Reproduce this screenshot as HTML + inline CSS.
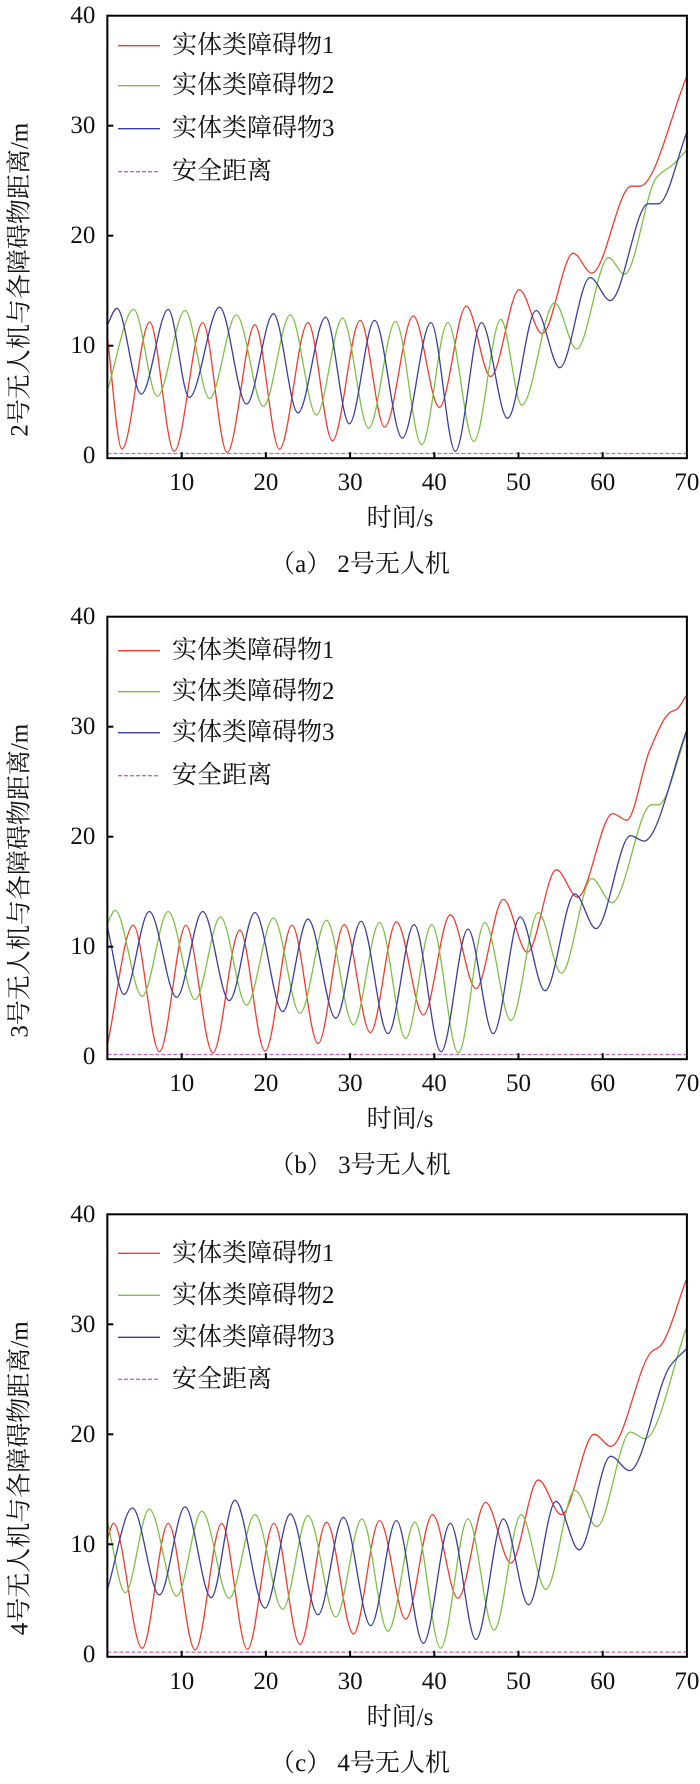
<!DOCTYPE html>
<html><head><meta charset="utf-8">
<style>
html,body{margin:0;padding:0;background:#fff;}
svg{display:block;}
text{font-family:"Liberation Serif","Noto Serif CJK SC",serif;fill:#111;}
</style></head>
<body>
<svg id="chart" width="700" height="1784" viewBox="0 0 700 1784" xmlns="http://www.w3.org/2000/svg"></svg>
<script>
// ---------- data (time s, distance m) ----------
const xTickLabels = [10, 20, 30, 40, 50, 60, 70];
const yTickLabels = [0, 10, 20, 30, 40];
const seriesNames = ["实体类障碍物1", "实体类障碍物2", "实体类障碍物3", "安全距离"];
const safeDistance = 0.2;

const aRedT = [1.17,2.9,6.2,9.1,12.5,15.4,18.7,21.6,25.0,27.9,31.2,34.1,37.5,40.6,43.8,46.7,50.1,52.8,56.5,58.7,63.4,64.4,70];
const aRedV = [10.8,0.6,12.15,0.4,12.1,0.3,11.9,0.6,12.1,1.35,12.3,2.6,12.7,4.4,13.6,7.2,15.1,11.1,18.4,16.6,24.5,24.5,34.5];
const aGreenT = [1.17,4.3,7.1,10.4,13.3,16.5,19.7,22.9,26.0,29.1,32.2,35.4,38.5,41.6,44.7,47.9,50.4,54.3,56.9,60.7,62.6,66.4,68.4,70];
const aGreenV = [5.9,13.3,5.4,13.2,5.2,12.8,4.5,12.8,3.7,12.5,2.5,12.2,1.0,12.1,1.3,12.4,4.6,13.9,9.7,18.0,16.5,25.3,26.5,27.8];
const aBlueT = [1.17,2.3,5.2,8.4,10.9,14.5,17.7,20.9,23.8,27.1,29.9,32.9,36.2,39.6,42.5,45.6,48.7,52.1,54.9,58.5,60.9,65.4,66.6,70];
const aBlueV = [11.9,13.4,5.6,13.3,5.3,13.5,4.7,12.9,3.9,12.6,2.9,12.3,1.6,12.1,0.4,12.1,3.4,13.2,8.0,16.2,14.1,22.9,22.9,29.4];

const bRedT = [1.17,4.25,7.35,10.5,13.7,16.9,19.9,23.1,26.2,29.3,32.4,35.5,38.7,41.9,44.95,48.2,51.05,54.5,57.0,61.2,62.85,65.6,68.0,68.8,70];
const bRedV = [1.05,11.95,0.45,11.95,0.35,11.5,0.5,11.95,1.2,12.0,2.2,12.25,3.8,12.9,6.2,14.3,9.5,17.0,14.5,22.1,21.5,27.9,31.3,31.6,32.9];
const bGreenT = [1.17,2.1,5.3,8.4,11.6,14.6,17.7,20.9,24.05,27.2,30.4,33.5,36.6,39.7,42.85,46.0,49.1,52.35,55.1,58.7,61.1,65.8,66.6,70];
const bGreenV = [12.1,13.3,5.5,13.2,5.2,12.7,4.7,12.6,3.95,12.4,2.9,12.2,1.65,12.0,0.35,12.2,3.3,13.1,7.6,16.2,14.0,22.9,22.9,29.5];
const bBlueT = [1.17,3.15,6.15,9.4,12.5,15.65,18.7,22.0,25.0,28.3,31.3,34.5,37.6,40.8,44.0,47.0,50.2,53.15,56.7,59.2,63.3,64.9,70];
const bBlueV = [11.8,5.65,13.2,5.4,13.2,5.1,13.1,4.1,12.5,3.5,12.3,2.1,12.0,0.45,11.6,2.1,12.7,6.0,14.8,11.65,20.1,19.6,29.7];

const cRedT = [1.17,1.9,5.3,8.4,11.6,14.75,17.8,20.95,24.05,27.2,30.4,33.5,36.6,39.8,42.8,46.1,49.1,52.35,55.1,59.0,60.95,65.8,66.8,70];
const cRedV = [10.5,11.9,0.55,11.9,0.4,11.9,0.45,11.9,0.9,12.0,1.85,12.15,3.2,12.7,5.1,13.8,8.3,15.85,12.7,20.0,18.9,27.5,28.0,34.2];
const cGreenT = [1.17,3.3,6.15,9.4,12.4,15.65,18.7,22.0,25.0,28.3,31.4,34.5,37.7,40.75,44.0,47.1,50.3,53.25,56.7,59.3,63.3,65.0,70];
const cGreenV = [12.1,5.6,13.2,5.3,13.0,5.1,12.7,4.1,12.6,3.4,12.3,2.1,12.0,0.55,12.3,2.2,12.7,5.9,14.9,11.6,20.2,19.6,29.8];
const cBlueT = [1.17,4.15,7.35,10.4,13.5,16.3,19.9,22.9,26.2,29.2,32.45,35.5,38.7,41.9,44.95,48.2,51.2,54.45,57.2,60.95,63.2,68.0,70];
const cBlueV = [5.85,13.3,5.4,13.4,5.15,14.0,4.2,12.75,3.6,12.45,2.6,12.15,1.0,11.9,1.35,12.3,4.5,13.9,9.5,18.0,16.7,26.2,27.8];

// ---------- layout ----------
const NS = "http://www.w3.org/2000/svg";
const svg = document.getElementById("chart");
const X0 = 97.5, XS = 8.42, TMIN = 1.17, TMAX = 70, YS = 11.0;
const COLORS = ["#ee3b2f", "#7cc044", "#3b3e98", "#c964c6"];
function xScale(t){ return X0 + XS*t; }

function mk(tag, attrs, parent){
  const e = document.createElementNS(NS, tag);
  for (const k in attrs) e.setAttribute(k, attrs[k]);
  (parent||svg).appendChild(e);
  return e;
}

function monoPath(ts, vs, ys){
  const n = ts.length, xs = ts.map(xScale), yy = vs.map(ys);
  const d = [], m = new Array(n);
  for (let i=0;i<n-1;i++) d.push((yy[i+1]-yy[i])/(xs[i+1]-xs[i]));
  m[0]=d[0]; m[n-1]=d[n-2];
  for (let i=1;i<n-1;i++){
    if (d[i-1]*d[i] <= 0) m[i]=0;
    else { const w1=2*(xs[i+1]-xs[i])+(xs[i]-xs[i-1]), w2=(xs[i+1]-xs[i])+2*(xs[i]-xs[i-1]);
      m[i]=(w1+w2)/(w1/d[i-1]+w2/d[i]); }
  }
  let p = "M"+xs[0].toFixed(2)+","+yy[0].toFixed(2);
  for (let i=0;i<n-1;i++){
    const h=(xs[i+1]-xs[i])/3;
    p += " C"+(xs[i]+h).toFixed(2)+","+(yy[i]+m[i]*h).toFixed(2)+" "+(xs[i+1]-h).toFixed(2)+","+(yy[i+1]-m[i+1]*h).toFixed(2)+" "+xs[i+1].toFixed(2)+","+yy[i+1].toFixed(2);
  }
  return p;
}

function drawPanel(id, zero, series, legendRows, yLabel, caption){
  const g = mk("g", {});
  
  
  const ys = v => zero - YS*v;
  const left = xScale(TMIN), right = xScale(TMAX), top = ys(40), bottom = zero + 2.5;

  // series
  series.forEach((s, i) => {
    const p = mk("path", {d: monoPath(s[0], s[1], ys), fill:"none", stroke:COLORS[i], "stroke-width":"1.3"}, g);
    
    
  });
  const sl = mk("line", {x1:left, x2:right, y1:ys(safeDistance), y2:ys(safeDistance), stroke:COLORS[3], "stroke-width":"1.2", "stroke-dasharray":"4,2"}, g);
  
  

  // frame
  const fr = mk("rect", {x:left, y:top, width:right-left, height:bottom-top, fill:"none", stroke:"#000", "stroke-width":"2"}, g);
  
  

  // x ticks
  xTickLabels.forEach(t => {
    const x = xScale(t);
    if (t < TMAX) mk("line", {x1:x, x2:x, y1:bottom, y2:bottom-6, stroke:"#000", "stroke-width":"2"}, g);
    const tx = mk("text", {x:x, y:zero+27, "font-size":"25", "text-anchor":"middle", "dominant-baseline":"central"}, g);
    tx.textContent = t;
    
    
  });
  // y ticks
  yTickLabels.forEach(v => {
    const y = ys(v);
    if (v > 0 && v < 40) mk("line", {x1:left, x2:left+6, y1:y, y2:y, stroke:"#000", "stroke-width":"2"}, g);
    const tx = mk("text", {x:left-12, y:y, "font-size":"25", "text-anchor":"end", "dominant-baseline":"central"}, g);
    tx.textContent = v;
    
    
  });

  // legend
  seriesNames.forEach((name, i) => {
    const y = top + legendRows[i];
    const ln = mk("line", {x1:118, x2:160, y1:y, y2:y, stroke:COLORS[i], "stroke-width":"1.3"}, g);
    if (i === 3) ln.setAttribute("stroke-dasharray", "4,2");
    
    
    const tx = mk("text", {x:172, y:y, "font-size":"25", "dominant-baseline":"central"}, g);
    tx.textContent = name;
    
    
  });

  // axis titles
  const cy = ys(16);
  const yt = mk("text", {x:20, y:cy, "font-size":"25", "text-anchor":"middle", "dominant-baseline":"central", transform:"rotate(-90 20 "+cy+")"}, g);
  yt.textContent = yLabel;
  
  
  const xt = mk("text", {x:400, y:zero+63, "font-size":"25", "text-anchor":"middle", "dominant-baseline":"central"}, g);
  xt.textContent = "时间/s";
  
  
  const cp = mk("text", {x:360, y:zero+109, "font-size":"25", "text-anchor":"middle", "dominant-baseline":"central"}, g);
  cp.textContent = caption;
  
  
}

drawPanel("a", 455.7, [[aRedT,aRedV],[aGreenT,aGreenV],[aBlueT,aBlueV]], [30,70,113,156], "2号无人机与各障碍物距离/m", "（a） 2号无人机");
drawPanel("b", 1056.7, [[bRedT,bRedV],[bGreenT,bGreenV],[bBlueT,bBlueV]], [34,75,116,159], "3号无人机与各障碍物距离/m", "（b） 3号无人机");
drawPanel("c", 1654.3, [[cRedT,cRedV],[cGreenT,cGreenV],[cBlueT,cBlueV]], [39,81,123,165], "4号无人机与各障碍物距离/m", "（c） 4号无人机");
</script>
</body></html>
